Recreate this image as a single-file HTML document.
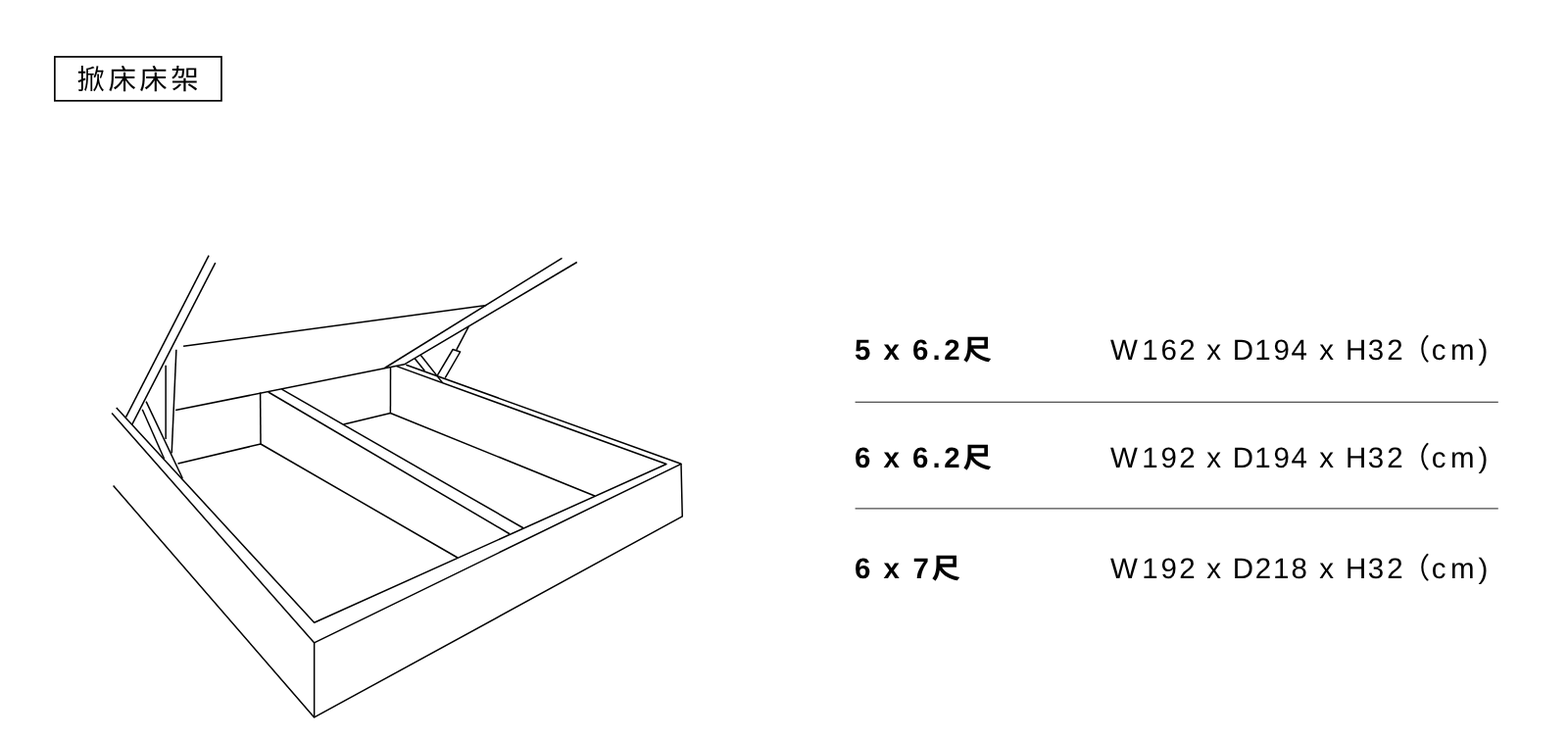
<!DOCTYPE html>
<html lang="zh-Hant">
<head>
<meta charset="utf-8">
<title>掀床床架</title>
<style>
  html, body { margin: 0; padding: 0; background: #fff; }
  body { width: 1600px; height: 754px; position: relative; overflow: hidden; }
  svg { position: absolute; left: 0; top: 0; width: 1600px; height: 754px; display: block; will-change: transform; filter: grayscale(1); }
  .bed line, .bed polyline { fill: none; stroke: #000; stroke-width: 1.5; stroke-linecap: butt; stroke-linejoin: round; }
  .tag { fill: none; stroke: #000; stroke-width: 1.7; }
  .rule { stroke: #000; stroke-width: 0.88; }
  text { font-family: "Liberation Sans", "Noto Sans CJK TC", sans-serif; fill: #000; text-rendering: geometricPrecision; white-space: pre; }
  .title { font-size: 28.5px; font-weight: 400; }
  .size { font-size: 29.5px; font-weight: 700; }
  .spec { font-size: 29.5px; font-weight: 400; }
</style>
</head>
<body>
<svg viewBox="0 0 1600 754">
  <rect class="tag" x="55.85" y="57.95" width="170.1" height="44.85"/>
  <text class="title" x="78.5 110.5 142.3 174.2" y="91" xml:space="preserve">掀床床架</text>
  <text class="size" x="872 890.8 901.5 920.3 931 951.5 963.2 982.5" y="367.25" xml:space="preserve">5 x 6.2尺</text>
  <text class="spec" x="1133 1165.2 1184.5 1203.2 1221.2 1231.3 1248.5 1257.8 1280.2 1299.5 1317.5 1335.9 1346.3 1363.6 1373 1395.7 1415.2 1429.7 1460.8 1480 1508.5" y="367.25" xml:space="preserve">W162 x D194 x H32（cm)</text>
  <text class="size" x="872 890.8 901.5 920.3 931 951.5 963.2 982.5" y="477" xml:space="preserve">6 x 6.2尺</text>
  <text class="spec" x="1133 1165.2 1184.5 1203.2 1221.2 1231.3 1248.5 1257.8 1280.2 1299.5 1317.5 1335.9 1346.3 1363.6 1373 1395.7 1415.2 1429.7 1460.8 1480 1508.5" y="477" xml:space="preserve">W192 x D194 x H32（cm)</text>
  <text class="size" x="872 890.8 901.5 920.5 931.5 950.5" y="589.75" xml:space="preserve">6 x 7尺</text>
  <text class="spec" x="1133 1165.2 1184.5 1203.2 1221.2 1231.3 1248.5 1257.8 1280.8 1299 1317.5 1335.9 1346.3 1363.6 1373 1395.7 1415.2 1429.7 1460.8 1480 1508.5" y="589.75" xml:space="preserve">W192 x D218 x H32（cm)</text>
  <line class="rule" x1="872.6" y1="410.24" x2="1528.8" y2="410.24"/>
  <line class="rule" x1="872.6" y1="518.9" x2="1528.8" y2="518.9"/>
  <g class="bed">
    <line x1="213.1" y1="260.6" x2="128.5" y2="425.6"/>
    <line x1="219.75" y1="268.1" x2="134.9" y2="432.9"/>
    <line x1="187.1" y1="353.2" x2="496.25" y2="311.6"/>
    <polyline points="179.1,418.5 412.5,371.8 588.75,267.5"/>
    <line x1="392.5" y1="375.5" x2="573.5" y2="263.4"/>
    <line x1="179.9" y1="356.8" x2="175.2" y2="462.4"/>
    <line x1="169.15" y1="372.75" x2="169.15" y2="448"/>
    <line x1="149.1" y1="409.6" x2="186.25" y2="488"/>
    <line x1="145.25" y1="417.75" x2="167.5" y2="468"/>
    <polyline points="114.1,421.5 320.55,655.8 695,473.3 414.3,372.2"/>
    <polyline points="118.75,415.9 320.65,635.3 680,473.5 404.6,373.6"/>
    <line x1="320.65" y1="655.8" x2="320.65" y2="731.9"/>
    <polyline points="115.6,495.5 320.65,731.9 696.25,526.9 695,473.3"/>
    <line x1="265.6" y1="400.6" x2="266" y2="453"/>
    <polyline points="181.5,473 266,453 466.9,569"/>
    <line x1="273.75" y1="400" x2="520" y2="544.75"/>
    <line x1="287.5" y1="397.1" x2="534" y2="538.75"/>
    <polyline points="350.6,433.1 398.4,421.5 606.9,506"/>
    <line x1="398.5" y1="374.5" x2="398.4" y2="421.5"/>
    <line x1="423.2" y1="365.7" x2="433.3" y2="378.2"/>
    <line x1="429.2" y1="362.3" x2="451.6" y2="390.6"/>
    <polyline points="446.4,382.9 462.1,356.5 469.6,359 454.2,385.7"/>
    <line x1="465.8" y1="356.9" x2="478.4" y2="332.8"/>
  </g>
</svg>
</body>
</html>
